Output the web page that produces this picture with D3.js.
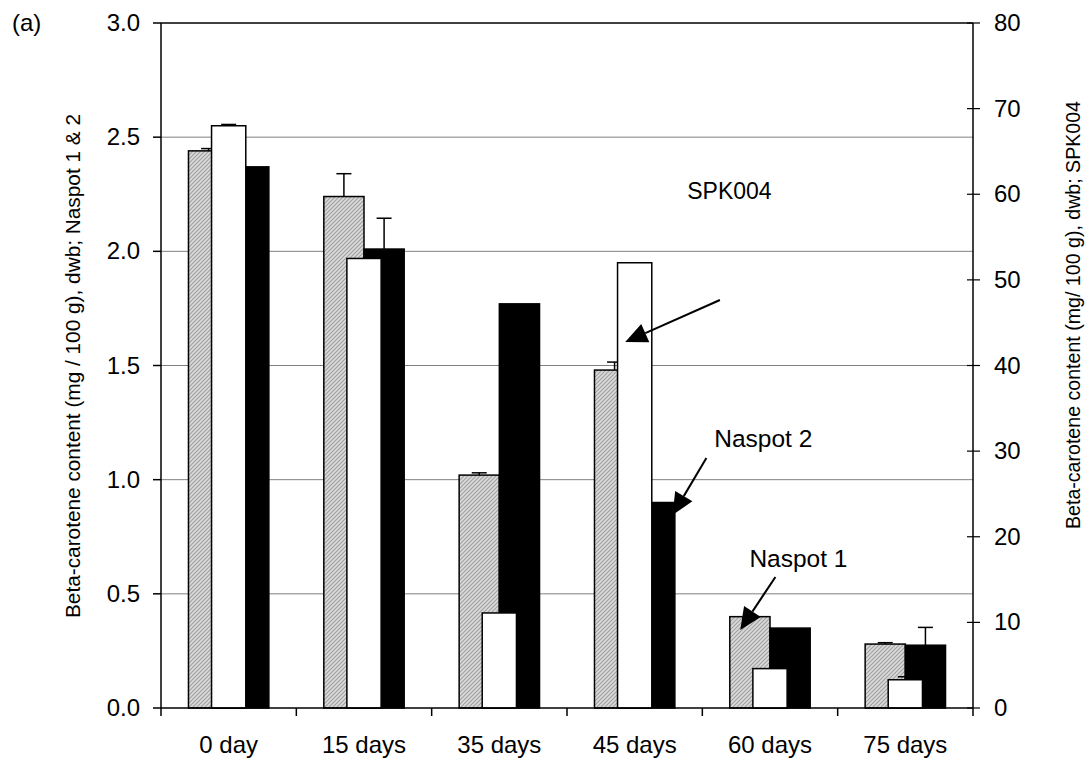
<!DOCTYPE html>
<html>
<head>
  <title>Beta-carotene content</title>
  <script src="https://d3js.org/d3.v7.min.js"></script>
  <style>
    body { margin: 0; background: #fff; }
    text { font-family: "Liberation Sans", Arial, sans-serif; fill: #000; }
  </style>
</head>
<body>
  <div id="chart"></div>
  <script>
    // data
    const categories = ['0 day', '15 days', '35 days', '45 days', '60 days', '75 days'];
    const naspot1 = [2.44, 2.24, 1.02, 1.48, 0.40, 0.28];
    const naspot1Err = [0.01, 0.10, 0.01, 0.035, 0, 0.006];
    const naspot2 = [2.37, 2.01, 1.77, 0.90, 0.35, 0.275];
    const naspot2Err = [0, 0.135, 0, 0, 0, 0.078];
    const spk004 = [68.0, 52.5, 11.1, 52.0, 4.6, 3.3];
    const spk004Err = [0.15, 0, 0, 0, 0, 0.35];
    const leftTicks = [0, 0.5, 1.0, 1.5, 2.0, 2.5, 3.0];
    const rightTicks = [0, 10, 20, 30, 40, 50, 60, 70, 80];

    const width = 1092, height = 765;
    const plotL = 161, plotR = 973, plotT = 23, plotB = 708;

    const svg = d3.select('#chart').append('svg')
      .attr('width', width).attr('height', height);

    const defs = svg.append('defs');
    const pat = defs.append('pattern')
      .attr('id', 'hatch').attr('patternUnits', 'userSpaceOnUse')
      .attr('width', 4).attr('height', 4);
    pat.append('rect').attr('width', 4).attr('height', 4).attr('fill', '#dadada');
    pat.append('path').attr('d', 'M-1,1 l2,-2 M0,4 l4,-4 M3,5 l2,-2')
      .attr('stroke', '#a0a0a0').attr('stroke-width', 1.1);

    const x = d3.scaleBand().domain(categories).range([plotL, plotR]);
    const xc = d3.scaleLinear().domain([0, categories.length]).range([plotL, plotR]);
    const y = d3.scaleLinear().domain([0, 3]).range([plotB, plotT]);
    const y2 = d3.scaleLinear().domain([0, 80]).range([plotB, plotT]);

    const bw = x.bandwidth() * 0.297;   // primary bars
    const bw2 = x.bandwidth() * 0.253;  // secondary (white) bars

    function label(g, tx, ty, str, anchor, size, rot) {
      g.append('text')
        .attr('transform', `translate(${tx},${ty})` + (rot ? ` rotate(${rot})` : ''))
        .attr('text-anchor', anchor)
        .style('font-size', size + 'px')
        .text(str);
    }

    // gridlines
    svg.append('g').selectAll('line')
      .data(leftTicks.filter(d => d > 0))
      .enter().append('line')
      .attr('x1', plotL).attr('x2', plotR)
      .attr('y1', d => y(d)).attr('y2', d => y(d))
      .attr('stroke', d => d === 3 ? '#000' : '#808080')
      .attr('stroke-width', d => d === 3 ? 1.5 : 1);

    const mid = c => x(c) + x.bandwidth() / 2;

    // primary bars
    const prim = svg.append('g');
    prim.selectAll('.n1').data(categories).enter().append('rect')
      .attr('x', c => mid(c) - bw)
      .attr('y', (c, i) => y(naspot1[i]))
      .attr('width', bw)
      .attr('height', (c, i) => plotB - y(naspot1[i]))
      .attr('fill', 'url(#hatch)').attr('stroke', '#000').attr('stroke-width', 1.5);
    prim.selectAll('.n2').data(categories).enter().append('rect')
      .attr('x', c => mid(c))
      .attr('y', (c, i) => y(naspot2[i]))
      .attr('width', bw)
      .attr('height', (c, i) => plotB - y(naspot2[i]))
      .attr('fill', '#000').attr('stroke', '#000').attr('stroke-width', 1.5);

    function errBars(g, cx, v, e, sc) {
      categories.forEach((c, i) => {
        if (!e[i]) return;
        const xx = cx(c);
        g.append('line').attr('x1', xx).attr('x2', xx)
          .attr('y1', sc(v[i])).attr('y2', sc(v[i] + e[i]))
          .attr('stroke', '#000').attr('stroke-width', 1.5);
        g.append('line').attr('x1', xx - 7.5).attr('x2', xx + 7.5)
          .attr('y1', sc(v[i] + e[i])).attr('y2', sc(v[i] + e[i]))
          .attr('stroke', '#000').attr('stroke-width', 1.5);
      });
    }
    errBars(prim, c => mid(c) - bw / 2, naspot1, naspot1Err, y);
    errBars(prim, c => mid(c) + bw / 2, naspot2, naspot2Err, y);

    // secondary bars (SPK004, right axis)
    const sec = svg.append('g');
    sec.selectAll('rect').data(categories).enter().append('rect')
      .attr('x', c => mid(c) - bw2 / 2)
      .attr('y', (c, i) => y2(spk004[i]))
      .attr('width', bw2)
      .attr('height', (c, i) => plotB - y2(spk004[i]))
      .attr('fill', '#fff').attr('stroke', '#000').attr('stroke-width', 1.5);
    errBars(sec, c => mid(c), spk004, spk004Err, y2);

    // axes
    const ax = svg.append('g').attr('stroke', '#000').attr('stroke-width', 1.5);
    ax.append('line').attr('x1', plotL).attr('x2', plotL).attr('y1', plotT).attr('y2', plotB);
    ax.append('line').attr('x1', plotR).attr('x2', plotR).attr('y1', plotT).attr('y2', plotB);
    ax.append('line').attr('x1', plotL).attr('x2', plotR).attr('y1', plotB).attr('y2', plotB);
    leftTicks.forEach(t => {
      ax.append('line').attr('x1', plotL - 8).attr('x2', plotL).attr('y1', y(t)).attr('y2', y(t));
    });
    rightTicks.forEach(t => {
      ax.append('line').attr('x1', plotR - 6).attr('x2', plotR + 7).attr('y1', y2(t)).attr('y2', y2(t)).attr('stroke-width', 1.2);
    });
    d3.range(categories.length + 1).forEach(i => {
      ax.append('line').attr('x1', xc(i)).attr('x2', xc(i)).attr('y1', plotB).attr('y2', plotB + 8);
    });

    const labels = svg.append('g');
    leftTicks.forEach(t => label(labels, plotL - 21, y(t) + 8, t.toFixed(1), 'end', 24));
    rightTicks.forEach(t => label(labels, plotR + 21, y2(t) + 8, String(t), 'start', 24));
    categories.forEach(c => label(labels, mid(c), plotB + 45, c, 'middle', 24));

    label(labels, 80, 366, 'Beta-carotene content (mg / 100 g), dwb; Naspot 1 & 2', 'middle', 20.8, -90);
    label(labels, 1080, 315, 'Beta-carotene content (mg/ 100 g), dwb; SPK004', 'middle', 19.6, -90);
    label(labels, 12, 31, '(a)', 'start', 24);

    // annotations: text position and arrow (tail -> tip) in category / left-axis units
    const notes = [
      { label: 'SPK004', size: 23, tx: 4.20, ty: 2.23, x1: 4.13, y1: 1.787, x2: 3.43, y2: 1.603 },
      { label: 'Naspot 2', size: 24.5, tx: 4.45, ty: 1.143, x1: 4.03, y1: 1.095, x2: 3.78, y2: 0.845 },
      { label: 'Naspot 1', size: 24.5, tx: 4.71, ty: 0.618, x1: 4.54, y1: 0.574, x2: 4.28, y2: 0.342 }
    ];
    const ann = svg.append('g');
    notes.forEach(n => {
      label(ann, xc(n.tx), y(n.ty), n.label, 'middle', n.size);
      const ax1 = xc(n.x1), ay1 = y(n.y1), ax2 = xc(n.x2), ay2 = y(n.y2);
      const ang = Math.atan2(ay2 - ay1, ax2 - ax1);
      const hl = 22, hw = 10;
      const bx = ax2 - hl * Math.cos(ang), by = ay2 - hl * Math.sin(ang);
      ann.append('line').attr('x1', ax1).attr('y1', ay1).attr('x2', bx).attr('y2', by)
        .attr('stroke', '#000').attr('stroke-width', 2);
      const px = -Math.sin(ang) * hw, py = Math.cos(ang) * hw;
      ann.append('path')
        .attr('d', `M${ax2},${ay2} L${bx + px},${by + py} L${bx - px},${by - py} Z`)
        .attr('fill', '#000');
    });
  </script>
</body>
</html>
